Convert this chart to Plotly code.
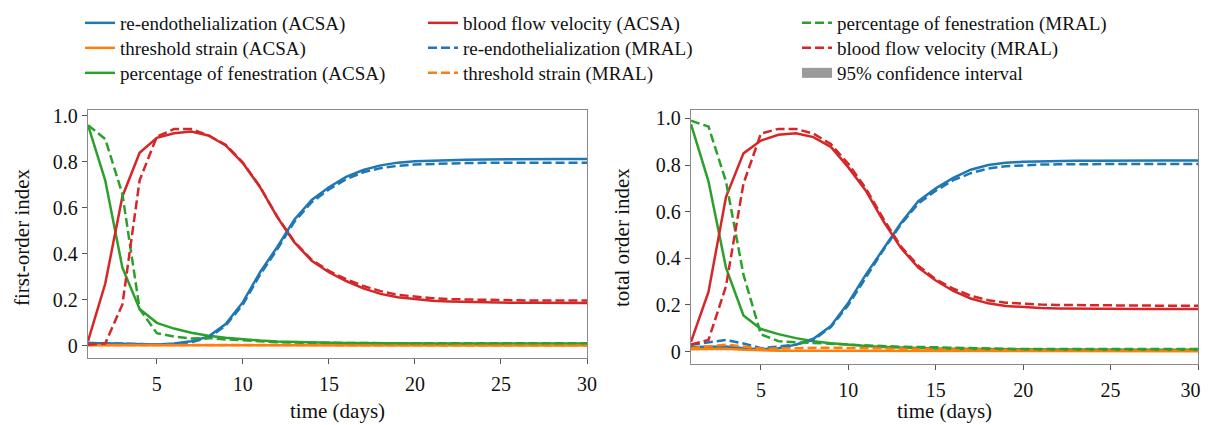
import plotly.graph_objects as go

days = list(range(1, 31))

# ---- first-order index (left panel) ----
L_blue_acsa = [0.012, 0.011, 0.009, 0.007, 0.006, 0.010, 0.020, 0.040, 0.095, 0.190, 0.320, 0.430,
               0.550, 0.635, 0.690, 0.735, 0.765, 0.785, 0.797, 0.803, 0.806, 0.808, 0.810, 0.811,
               0.812, 0.812, 0.813, 0.813, 0.813, 0.813]
L_blue_mral = [0.012, 0.012, 0.010, 0.008, 0.006, 0.008, 0.016, 0.035, 0.088, 0.180, 0.310, 0.420,
               0.540, 0.625, 0.680, 0.725, 0.755, 0.773, 0.783, 0.789, 0.792, 0.794, 0.795, 0.796,
               0.796, 0.797, 0.797, 0.797, 0.797, 0.797]
L_orange_acsa = [0.003, 0.003, 0.002, 0.002, 0.002, 0.002, 0.002, 0.002, 0.001, 0.001, 0.001, 0.001,
                 0.001, 0.001, 0.001, 0.001, 0.001, 0.001, 0.001, 0.001, 0.001, 0.001, 0.001, 0.001,
                 0.001, 0.001, 0.001, 0.001, 0.001, 0.001]
L_orange_mral = [0.004, 0.004, 0.003, 0.003, 0.003, 0.003, 0.003, 0.003, 0.003, 0.002, 0.002, 0.002,
                 0.002, 0.002, 0.002, 0.002, 0.002, 0.002, 0.002, 0.002, 0.002, 0.002, 0.002, 0.002,
                 0.002, 0.002, 0.002, 0.002, 0.002, 0.002]
L_green_acsa = [0.960, 0.720, 0.340, 0.160, 0.100, 0.075, 0.057, 0.044, 0.035, 0.028, 0.023, 0.019,
                0.016, 0.014, 0.013, 0.012, 0.011, 0.011, 0.010, 0.010, 0.010, 0.010, 0.010, 0.010,
                0.010, 0.010, 0.010, 0.010, 0.010, 0.010]
L_green_mral = [0.960, 0.900, 0.660, 0.160, 0.055, 0.040, 0.032, 0.034, 0.028, 0.023, 0.019, 0.016,
                0.014, 0.013, 0.012, 0.011, 0.011, 0.011, 0.011, 0.011, 0.011, 0.011, 0.011, 0.011,
                0.011, 0.011, 0.011, 0.011, 0.011, 0.011]
L_red_acsa = [0.020, 0.270, 0.650, 0.840, 0.905, 0.925, 0.932, 0.915, 0.872, 0.795, 0.690, 0.560,
              0.450, 0.370, 0.320, 0.282, 0.250, 0.226, 0.211, 0.202, 0.196, 0.193, 0.191, 0.189,
              0.188, 0.187, 0.187, 0.186, 0.186, 0.186]
L_red_mral = [0.005, 0.010, 0.180, 0.720, 0.910, 0.943, 0.943, 0.915, 0.875, 0.797, 0.692, 0.562,
              0.452, 0.374, 0.326, 0.290, 0.260, 0.238, 0.222, 0.213, 0.207, 0.203, 0.201, 0.199,
              0.198, 0.198, 0.197, 0.197, 0.197, 0.197]

# ---- total order index (right panel) ----
R_blue_acsa = [0.020, 0.020, 0.022, 0.015, 0.010, 0.015, 0.030, 0.055, 0.110, 0.210, 0.330, 0.440,
               0.550, 0.645, 0.700, 0.745, 0.780, 0.800, 0.810, 0.814, 0.816, 0.817, 0.818, 0.818,
               0.819, 0.819, 0.819, 0.819, 0.819, 0.819]
R_blue_mral = [0.030, 0.040, 0.050, 0.035, 0.015, 0.022, 0.030, 0.050, 0.105, 0.200, 0.320, 0.435,
               0.545, 0.635, 0.690, 0.735, 0.765, 0.785, 0.795, 0.800, 0.802, 0.803, 0.804, 0.804,
               0.805, 0.805, 0.805, 0.805, 0.805, 0.805]
R_orange_acsa = [0.010, 0.012, 0.012, 0.008, 0.005, 0.004, 0.004, 0.004, 0.004, 0.003, 0.003, 0.003,
                 0.003, 0.003, 0.003, 0.003, 0.002, 0.002, 0.002, 0.002, 0.002, 0.002, 0.002, 0.002,
                 0.002, 0.002, 0.002, 0.002, 0.002, 0.002]
R_orange_mral = [0.015, 0.022, 0.030, 0.022, 0.012, 0.014, 0.016, 0.017, 0.017, 0.016, 0.015, 0.014,
                 0.012, 0.010, 0.008, 0.007, 0.006, 0.006, 0.005, 0.005, 0.004, 0.004, 0.004, 0.004,
                 0.004, 0.004, 0.004, 0.004, 0.004, 0.004]
R_green_acsa = [0.975, 0.730, 0.360, 0.155, 0.097, 0.075, 0.058, 0.045, 0.036, 0.029, 0.024, 0.020,
                0.017, 0.015, 0.013, 0.012, 0.011, 0.010, 0.010, 0.009, 0.009, 0.009, 0.009, 0.008,
                0.008, 0.008, 0.008, 0.008, 0.008, 0.008]
R_green_mral = [0.990, 0.965, 0.730, 0.330, 0.074, 0.045, 0.040, 0.038, 0.034, 0.030, 0.026, 0.023,
                0.021, 0.020, 0.018, 0.016, 0.014, 0.013, 0.012, 0.011, 0.011, 0.011, 0.011, 0.011,
                0.011, 0.011, 0.011, 0.011, 0.011, 0.011]
R_red_acsa = [0.042, 0.256, 0.663, 0.850, 0.905, 0.930, 0.936, 0.920, 0.878, 0.790, 0.690, 0.560,
              0.445, 0.360, 0.305, 0.260, 0.228, 0.207, 0.196, 0.190, 0.187, 0.185, 0.184, 0.184,
              0.183, 0.183, 0.183, 0.183, 0.183, 0.183]
R_red_mral = [0.030, 0.050, 0.280, 0.720, 0.935, 0.955, 0.955, 0.935, 0.890, 0.805, 0.700, 0.570,
              0.452, 0.368, 0.310, 0.270, 0.240, 0.220, 0.210, 0.205, 0.202, 0.200, 0.199, 0.198,
              0.198, 0.197, 0.197, 0.197, 0.197, 0.197]

y_tickvals = [0, 0.2, 0.4, 0.6, 0.8, 1.0]
y_ticktext = ["0", "0.2", "0.4", "0.6", "0.8", "1.0"]
x_tickvals = [5, 10, 15, 20, 25, 30]
x_ticktext = ["5", "10", "15", "20", "25", "30"]
# right panel: last label nudged left so it is not clipped at the page edge
x2_ticktext = ["5", "10", "15", "20", "25", "30\u00a0\u00a0\u00a0"]

BLUE, ORANGE, GREEN, RED = "#1f77b4", "#ff7f0e", "#2ca02c", "#d62728"
FONT = "Liberation Serif"
LW = 2.5
DASH = "9px,4px"

# page body has an 8px margin: figure sits at (8, 8) on screen
OFF = 8
W, H = 1210 - OFF, 425 - OFF
def px(x):  # screen pixel -> paper fraction
    return (x - OFF) / W
def py(y):
    return 1 - (y - OFF) / H

# legend slots (screen px): column left x, row centre y
COLX = [80, 423, 797]
ROWY = [22, 47, 72]
LEG_TOP_OFFSET = 18  # row centre sits this far below legend top

series = [
    ("re-endothelialization (ACSA)", BLUE, "solid", L_blue_acsa, R_blue_acsa, (0, 0)),
    ("threshold strain (ACSA)", ORANGE, "solid", L_orange_acsa, R_orange_acsa, (0, 1)),
    ("percentage of fenestration (ACSA)", GREEN, "solid", L_green_acsa, R_green_acsa, (0, 2)),
    ("blood flow velocity (ACSA)", RED, "solid", L_red_acsa, R_red_acsa, (1, 0)),
    ("re-endothelialization (MRAL)", BLUE, DASH, L_blue_mral, R_blue_mral, (1, 1)),
    ("threshold strain (MRAL)", ORANGE, DASH, L_orange_mral, R_orange_mral, (1, 2)),
    ("percentage of fenestration (MRAL)", GREEN, DASH, L_green_mral, R_green_mral, (2, 0)),
    ("blood flow velocity (MRAL)", RED, DASH, L_red_mral, R_red_mral, (2, 1)),
]

fig = go.Figure()
legend_layout = {}
leg_common = dict(xanchor="left", yanchor="top", bgcolor="rgba(0,0,0,0)", borderwidth=0,
                  font=dict(family=FONT, size=19, color="#111111"), orientation="v")

for i, (name, color, dash, yl, yr, (c, r)) in enumerate(series):
    lid = "legend" if i == 0 else f"legend{i + 1}"
    fig.add_trace(go.Scatter(x=days, y=yl, mode="lines", name=name, legend=lid,
                             line=dict(color=color, width=LW, dash=dash),
                             xaxis="x", yaxis="y", showlegend=True))
    fig.add_trace(go.Scatter(x=days, y=yr, mode="lines", name=name, legend=lid,
                             line=dict(color=color, width=LW, dash=dash),
                             xaxis="x2", yaxis="y2", showlegend=False))
    legend_layout[lid] = dict(x=px(COLX[c]), y=py(ROWY[r] - LEG_TOP_OFFSET), **leg_common)

fig.add_trace(go.Scatter(x=[None], y=[None], mode="lines", name="95% confidence interval",
                         legend="legend9", line=dict(color="#9a9a9a", width=13),
                         xaxis="x", yaxis="y", showlegend=True))
legend_layout["legend9"] = dict(x=px(COLX[2]), y=py(ROWY[2] - LEG_TOP_OFFSET), **leg_common)

axis_common = dict(showline=True, linecolor="#8a8a8a", linewidth=1.3, mirror=True,
                   ticks="outside", ticklen=5, tickwidth=1, tickcolor="#555555",
                   showgrid=False, zeroline=False,
                   tickfont=dict(family=FONT, size=20, color="#111111"))

fig.update_layout(
    width=W, height=H,
    margin=dict(l=0, r=0, t=0, b=0, autoexpand=False),
    paper_bgcolor="white", plot_bgcolor="white",
    font=dict(family=FONT, size=19, color="#111111"),
    xaxis=dict(domain=[px(88), px(587)], range=[1, 30], tickvals=x_tickvals,
               ticktext=x_ticktext, anchor="y", ticklabelstandoff=3, **axis_common),
    yaxis=dict(domain=[py(358), py(110)], range=[-0.053, 1.026], tickvals=y_tickvals,
               ticktext=y_ticktext, anchor="x", **axis_common),
    xaxis2=dict(domain=[px(691), px(1198)], range=[1, 30], tickvals=x_tickvals,
                ticktext=x2_ticktext, anchor="y2", ticklabelstandoff=3,
                ticklabeloverflow="allow", **axis_common),
    yaxis2=dict(domain=[py(364), py(110)], range=[-0.053, 1.036], tickvals=y_tickvals,
                ticktext=y_ticktext, anchor="x2", **axis_common),
    showlegend=True,
    **legend_layout,
)

ann_font = dict(family=FONT, size=21, color="#111111")
fig.add_annotation(text="time (days)", x=px(337.5), y=py(411), xref="paper", yref="paper",
                   showarrow=False, xanchor="center", yanchor="middle", font=ann_font)
fig.add_annotation(text="time (days)", x=px(944.5), y=py(411), xref="paper", yref="paper",
                   showarrow=False, xanchor="center", yanchor="middle", font=ann_font)
fig.add_annotation(text="first-order index", x=px(22), y=py(237), xref="paper", yref="paper",
                   showarrow=False, xanchor="center", yanchor="middle", textangle=-90,
                   font=ann_font)
fig.add_annotation(text="total order index", x=px(622), y=py(238), xref="paper", yref="paper",
                   showarrow=False, xanchor="center", yanchor="middle", textangle=-90,
                   font=ann_font)

fig.write_html("out.html")
